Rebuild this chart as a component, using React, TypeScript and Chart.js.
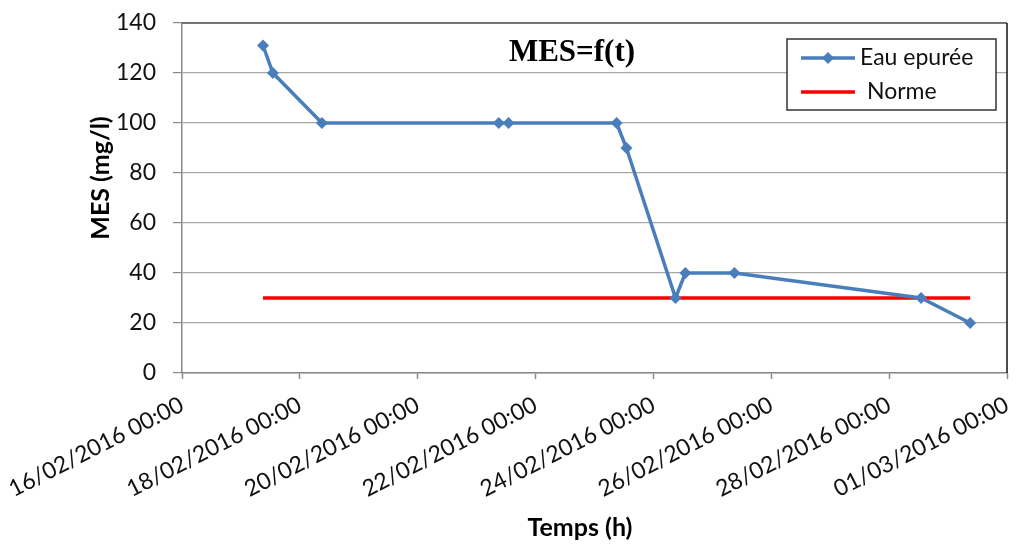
import React, { useEffect, useRef } from "react";
import { Chart, registerables } from "chart.js";

Chart.register(...registerables);

// ---- data ----
const startDate = "16/02/2016 00:00";
const sampleTimes = [
  "17/02/2016 09:00",
  "17/02/2016 13:00",
  "18/02/2016 09:00",
  "21/02/2016 09:00",
  "21/02/2016 13:00",
  "23/02/2016 09:00",
  "23/02/2016 13:00",
  "24/02/2016 09:00",
  "24/02/2016 13:00",
  "25/02/2016 09:00",
  "28/02/2016 13:00",
  "29/02/2016 09:00",
];
const mesValues = [131, 120, 100, 100, 100, 100, 90, 30, 40, 40, 30, 20];
const normeTimes = ["17/02/2016 09:00", "29/02/2016 09:00"];
const normeValues = [30, 30];
const xTickLabels = [
  "16/02/2016 00:00",
  "18/02/2016 00:00",
  "20/02/2016 00:00",
  "22/02/2016 00:00",
  "24/02/2016 00:00",
  "26/02/2016 00:00",
  "28/02/2016 00:00",
  "01/03/2016 00:00",
];
const yTicks = [0, 20, 40, 60, 80, 100, 120, 140];
const seriesNames = ["Eau epurée", "Norme"];
const chartTitle = "MES=f(t)";
const yTitle = "MES (mg/l)";
const xTitle = "Temps (h)";

function parseDate(s: string): number {
  const [d, t] = s.split(" ");
  const [dd, mm, yy] = d.split("/").map(Number);
  const [hh, mi] = t.split(":").map(Number);
  return Date.UTC(yy, mm - 1, dd, hh, mi);
}
const t0 = parseDate(startDate);
const toDays = (s: string) => (parseDate(s) - t0) / 86400000;

const BLUE = "#4A7EBB";
const RED = "#FF0000";
const FONT = "Lato";

const zeroPad = (s: any) => {
  s.paddingLeft = 0;
  s.paddingRight = 0;
  s.paddingTop = 0;
  s.paddingBottom = 0;
};

const overlay = {
  id: "overlay",
  afterDraw(chart: any) {
    const { ctx, chartArea } = chart;
    const { left, right, top, bottom } = chartArea;
    ctx.save();
    // plot border top & right
    ctx.lineWidth = 1.5;
    ctx.strokeStyle = "#555555";
    ctx.beginPath();
    ctx.moveTo(left, top);
    ctx.lineTo(right, top);
    ctx.stroke();
    ctx.strokeStyle = "#111111";
    ctx.beginPath();
    ctx.moveTo(right, top);
    ctx.lineTo(right, bottom);
    ctx.stroke();

    // title
    ctx.fillStyle = "#000";
    ctx.font = `bold 31px "Liberation Serif"`;
    ctx.textAlign = "center";
    ctx.textBaseline = "alphabetic";
    ctx.fillText(chartTitle, 572, 61);

    // axis titles
    ctx.font = `bold 25px ${FONT}`;
    ctx.textBaseline = "middle";
    ctx.fillText(xTitle, 580, 528);
    ctx.save();
    ctx.translate(101, 178);
    ctx.rotate(-Math.PI / 2);
    ctx.fillText(yTitle, 0, 0);
    ctx.restore();

    // legend
    const lx = 787, ly = 39, lw = 209, lh = 71;
    ctx.fillStyle = "#fff";
    ctx.fillRect(lx, ly, lw, lh);
    ctx.lineWidth = 1.5;
    ctx.strokeStyle = "#333";
    ctx.strokeRect(lx, ly, lw, lh);
    const rows = [
      { y: 58, color: BLUE, marker: true, tx: 860 },
      { y: 92, color: RED, marker: false, tx: 867 },
    ];
    rows.forEach((r, i) => {
      ctx.strokeStyle = r.color;
      ctx.lineWidth = 3.5;
      ctx.beginPath();
      ctx.moveTo(801, r.y);
      ctx.lineTo(855, r.y);
      ctx.stroke();
      if (r.marker) {
        ctx.fillStyle = r.color;
        ctx.beginPath();
        ctx.moveTo(828, r.y - 6);
        ctx.lineTo(834, r.y);
        ctx.lineTo(828, r.y + 6);
        ctx.lineTo(822, r.y);
        ctx.closePath();
        ctx.fill();
      }
      ctx.fillStyle = "#111";
      ctx.font = `23px ${FONT}`;
      ctx.textAlign = "left";
      ctx.textBaseline = "middle";
      ctx.fillText(seriesNames[i], r.tx, r.y);
    });
    ctx.restore();
  },
};

export default function App() {
  const ref = useRef<HTMLCanvasElement | null>(null);
  useEffect(() => {
    if (!ref.current) return;
    const chart = new Chart(ref.current, {
      type: "line",
      data: {
        datasets: [
          {
            label: seriesNames[0],
            data: sampleTimes.map((t, i) => ({ x: toDays(t), y: mesValues[i] })),
            borderColor: BLUE,
            backgroundColor: BLUE,
            borderWidth: 3.5,
            pointStyle: "rectRot",
            pointRadius: 6,
            pointBorderWidth: 0,
            pointBackgroundColor: BLUE,
            tension: 0,
          },
          {
            label: seriesNames[1],
            data: normeTimes.map((t, i) => ({ x: toDays(t), y: normeValues[i] })),
            borderColor: RED,
            backgroundColor: RED,
            borderWidth: 3.5,
            pointRadius: 0,
            tension: 0,
          },
        ],
      },
      options: {
        animation: false,
        responsive: false,
        devicePixelRatio: 1,
        layout: { padding: { left: 0, right: 9, top: 23, bottom: 0 } },
        plugins: {
          legend: { display: false },
          title: { display: false },
          tooltip: { enabled: false },
        },
        scales: {
          x: {
            type: "linear",
            min: 0,
            max: 14,
            afterFit: (s: any) => {
              s.height = 173;
              zeroPad(s);
            },
            afterBuildTicks: (s: any) => {
              s.ticks = xTickLabels.map((_, i) => ({ value: i * 2 }));
            },
            ticks: {
              autoSkip: false,
              minRotation: 27,
              maxRotation: 27,
              padding: 12,
              color: "#111",
              font: { family: FONT, size: 23 },
              callback: (_v: any, i: number) => xTickLabels[i],
            },
            grid: {
              drawOnChartArea: false,
              drawTicks: true,
              tickLength: 6,
              tickColor: "#888",
              tickWidth: 1.5,
            },
            border: { color: "#888", width: 1.5 },
          },
          y: {
            min: 0,
            max: 140,
            afterFit: (s: any) => {
              s.width = 182;
              zeroPad(s);
            },
            afterBuildTicks: (s: any) => {
              s.ticks = yTicks.map((v) => ({ value: v }));
            },
            ticks: {
              padding: 17,
              color: "#111",
              font: { family: FONT, size: 23 },
            },
            grid: {
              color: "#A8A8A8",
              lineWidth: 1.2,
              tickLength: 9,
              tickColor: "#888",
            },
            border: { color: "#888", width: 1.5 },
          },
        },
      },
      plugins: [overlay],
    });
    return () => chart.destroy();
  }, []);
  return (
    <div style={{ position: "absolute", left: 0, top: 0, width: 1016, height: 546, background: "#fff" }}>
      <canvas ref={ref} width={1016} height={546} style={{ display: "block" }} />
    </div>
  );
}
